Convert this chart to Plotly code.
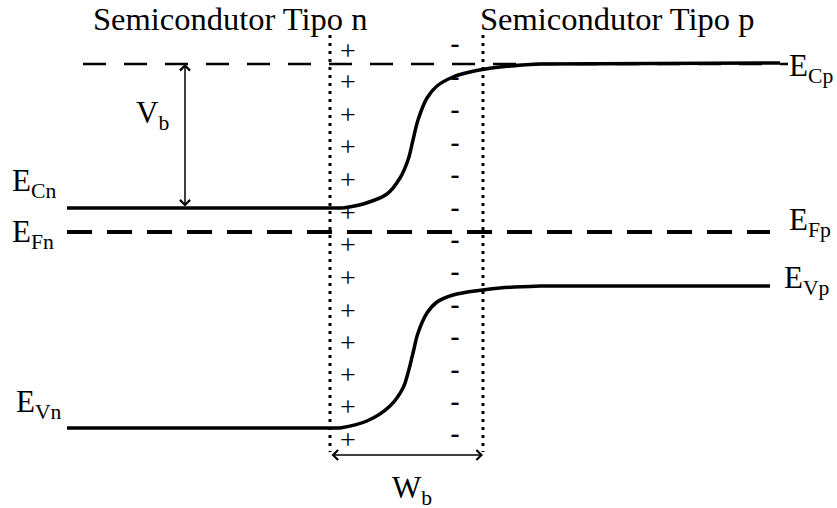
import plotly.graph_objects as go

# ---- data (x: position along device, y: energy in arbitrary units, up = higher) ----
E_Cp = 444
E_Cn = 300
E_Fn = 276
E_Vn = 80
E_Vp = 222

x_left, x_right = 67, 780
x_dep_n, x_dep_p = 330, 483          # depletion-region boundaries
dep_top, dep_bot = 473, 56

# conduction band: bent region
ec_bend_x = [343, 363, 387, 400, 408, 413, 418, 427, 437, 453, 470, 500, 540]
ec_bend_y = [300, 304, 314, 330, 348, 368, 388, 410, 422, 431, 436, 441, 444]

# valence band: bent region
ev_bend_x = [340, 367, 390, 403, 408, 413, 418, 427, 437, 453, 483, 500, 540]
ev_bend_y = [80, 87, 102, 120, 135, 155, 175, 195, 206, 213, 218, 220, 222]

# space charges
plus_y = [455, 424, 391, 359, 326, 293, 261, 228, 195, 163, 131, 99, 66]
minus_y = [463, 430, 397, 364, 332, 299, 267, 235, 202, 170, 137, 105, 73]
plus_x = 348
minus_x = 455

FONT = "Liberation Serif"

fig = go.Figure()

def line(xs, ys, width=3.5, dash="solid", shape="linear", smoothing=1.0):
    fig.add_trace(go.Scatter(x=xs, y=ys, mode="lines", line_shape=shape,
                             line=dict(color="black", width=width, dash=dash,
                                       smoothing=smoothing),
                             hoverinfo="skip"))

# E_Cp reference dashed line
line([83, 788], [E_Cp, E_Cp], width=2.5, dash="23px,18px")
# Fermi level
line([x_left, 770], [E_Fn, E_Fn], width=4, dash="25px,15px")
# conduction band
line([x_left, ec_bend_x[0]], [E_Cn, E_Cn])
line(ec_bend_x, ec_bend_y, shape="spline", smoothing=1.0)
line([ec_bend_x[-1], x_right], [ec_bend_y[-1], E_Cp + 1])
# valence band
line([x_left, ev_bend_x[0]], [E_Vn, E_Vn])
line(ev_bend_x, ev_bend_y, shape="spline", smoothing=1.0)
line([ev_bend_x[-1], 770], [ev_bend_y[-1], E_Vp])
# depletion boundaries
for xd in (x_dep_n, x_dep_p):
    line([xd, xd], [dep_top, dep_bot], width=3, dash="3px,5px")

# charges
fig.add_trace(go.Scatter(x=[plus_x] * len(plus_y), y=plus_y, mode="text",
                         text=["+"] * len(plus_y),
                         textfont=dict(family=FONT, size=28, color="black"),
                         hoverinfo="skip"))
fig.add_trace(go.Scatter(x=[minus_x] * len(minus_y), y=minus_y, mode="text",
                         text=["-"] * len(minus_y),
                         textfont=dict(family=FONT, size=27, color="black", weight="bold"),
                         hoverinfo="skip"))

ann = []
def label(x, y, t, size=31, xanchor="left"):
    ann.append(dict(x=x, y=y, xref="x", yref="y", text=t, showarrow=False,
                    xanchor=xanchor, yanchor="middle",
                    font=dict(family=FONT, size=size, color="black")))

label(91, 489, "Semicondutor Tipo n", 32.5)
label(478, 489, "Semicondutor Tipo p", 32.5)
label(10, 325, "E<sub>Cn</sub>")
label(10, 274, "E<sub>Fn</sub>")
label(14, 104, "E<sub>Vn</sub>")
label(787, 440, "E<sub>Cp</sub>")
label(787, 286, "E<sub>Fp</sub>")
label(782, 228, "E<sub>Vp</sub>")
label(134, 393, "V<sub>b</sub>")
label(390, 18, "W<sub>b</sub>")

# V_b arrow
ann.append(dict(x=185, y=E_Cp, ax=185, ay=E_Cn, xref="x", yref="y", axref="x", ayref="y",
                text="", showarrow=True, arrowhead=4, startarrowhead=4, arrowside="end+start",
                arrowwidth=1.5, arrowsize=1.3, startarrowsize=1.3,
                standoff=0, startstandoff=0, arrowcolor="black"))
# W_b arrow
ann.append(dict(x=x_dep_p, y=53, ax=x_dep_n, ay=53, xref="x", yref="y", axref="x", ayref="y",
                text="", showarrow=True, arrowhead=4, startarrowhead=4, arrowside="end+start",
                arrowwidth=1.5, arrowsize=1.3, startarrowsize=1.3,
                standoff=0, startstandoff=0, arrowcolor="black"))

fig.update_layout(
    width=837, height=508,
    margin=dict(l=0, r=0, t=0, b=0),
    paper_bgcolor="white", plot_bgcolor="white",
    showlegend=False,
    annotations=ann,
    xaxis=dict(range=[0, 837], visible=False, fixedrange=True),
    yaxis=dict(range=[0, 508], visible=False, fixedrange=True),
)

fig.write_html("out.html", config={"displayModeBar": False},
               post_script="document.body.style.margin='0';document.body.style.overflow='hidden';")
